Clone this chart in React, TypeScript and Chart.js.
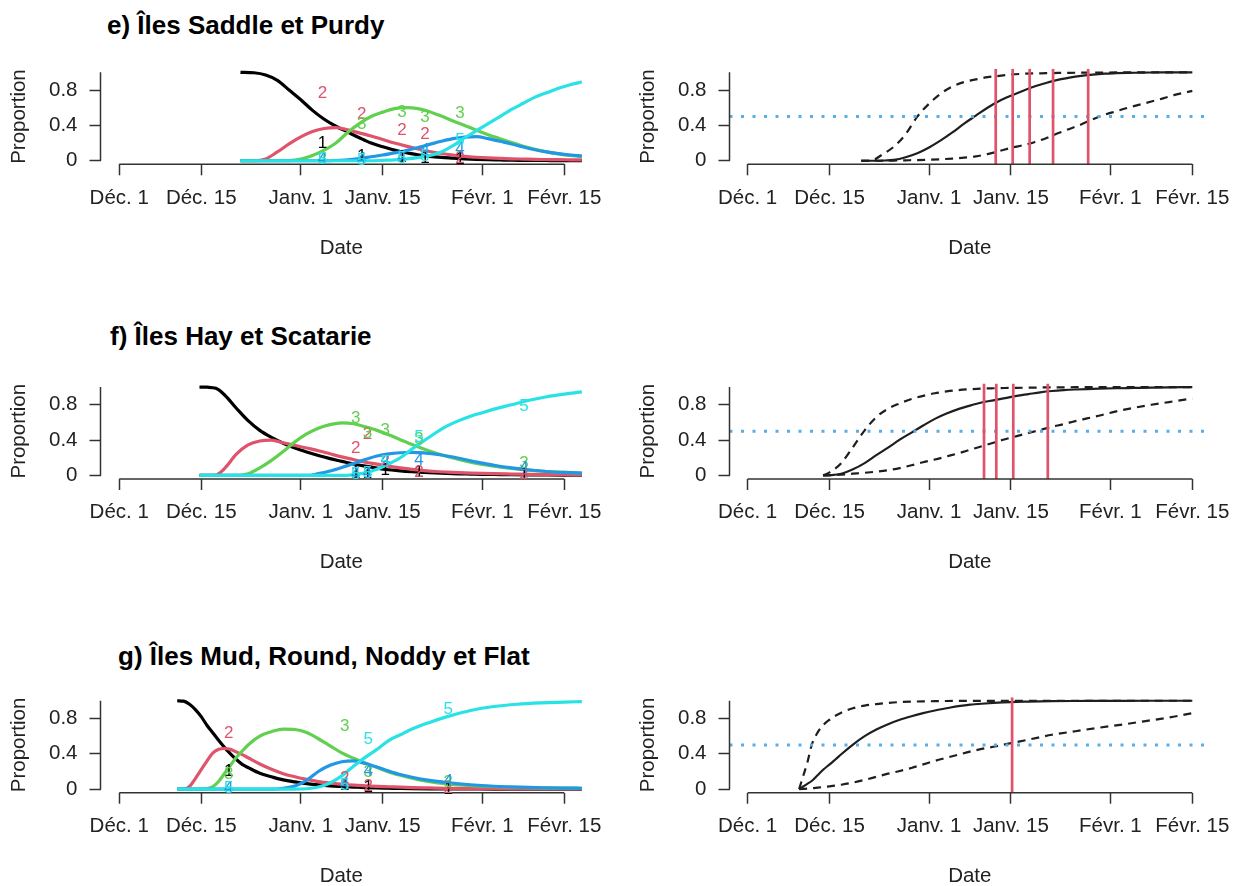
import React, { useEffect, useRef } from 'react';
import { Chart, registerables } from 'chart.js';

Chart.register(...registerables);

const FONT = '"Liberation Sans", Arial, Helvetica, sans-serif';

// ---- axis definitions (days after 1 December) ----
const tickDays = [0, 14, 31, 45, 62, 76];
const tickLabels = ['Déc. 1', 'Déc. 15', 'Janv. 1', 'Janv. 15', 'Févr. 1', 'Févr. 15'];
const yTickValues = [0, 0.2, 0.4, 0.6, 0.8, 1];
const yTickLabels = ['0', '', '0.4', '', '0.8', ''];
const stageNames = ['1', '2', '3', '4', '5'];
const stageColors = ['#000000', '#DF536B', '#61D04F', '#2297E6', '#28E2E5'];
const halfLevel = 0.5;
const panelTitles = ['e) Îles Saddle et Purdy', 'f) Îles Hay et Scatarie', 'g) Îles Mud, Round, Noddy et Flat'];

// ---- e) Saddle et Purdy : stage proportions ----
const eDays = [20.7, 23, 25, 27, 29, 31, 33, 35, 37, 39, 41, 43, 45, 47, 49, 51, 53, 55, 57, 59, 61, 63, 65, 67, 69, 71, 73, 75, 77, 79];
const eStage1 = [1.0, 0.995, 0.97, 0.91, 0.8, 0.69, 0.57, 0.47, 0.39, 0.325, 0.26, 0.2, 0.158, 0.12, 0.09, 0.068, 0.05, 0.038, 0.03, 0.022, 0.016, 0.012, 0.009, 0.006, 0.005, 0.004, 0.003, 0.002, 0.002, 0.001];
const eStage2 = [0, 0, 0.02, 0.1, 0.19, 0.27, 0.33, 0.365, 0.375, 0.35, 0.315, 0.28, 0.24, 0.2, 0.165, 0.135, 0.105, 0.082, 0.064, 0.05, 0.04, 0.032, 0.026, 0.022, 0.019, 0.016, 0.014, 0.012, 0.011, 0.01];
const eStage3 = [0, 0, 0, 0, 0.002, 0.02, 0.06, 0.12, 0.2, 0.32, 0.42, 0.5, 0.55, 0.59, 0.6, 0.59, 0.555, 0.505, 0.45, 0.4, 0.345, 0.295, 0.25, 0.205, 0.165, 0.13, 0.1, 0.078, 0.06, 0.047];
const eStage4 = [0, 0, 0, 0, 0, 0, 0, 0, 0.003, 0.01, 0.025, 0.045, 0.065, 0.09, 0.115, 0.15, 0.185, 0.22, 0.25, 0.268, 0.272, 0.25, 0.22, 0.19, 0.155, 0.125, 0.1, 0.08, 0.065, 0.055];
const eStage5 = [0, 0, 0, 0, 0, 0, 0, 0, 0, 0, 0, 0, 0.005, 0.01, 0.02, 0.035, 0.06, 0.1, 0.17, 0.26, 0.34, 0.42, 0.5, 0.58, 0.65, 0.72, 0.77, 0.82, 0.86, 0.89];
const eObsDays = [34.7, 41.4, 48.3, 52.2, 58.2];
const eObs1 = [0.2, 0.05, 0.04, 0.03, 0.02];
const eObs2 = [0.76, 0.52, 0.34, 0.3, 0.03];
const eObs3 = [0.02, 0.41, 0.55, 0.49, 0.54];
const eObs4 = [0.02, 0.02, 0.04, 0.12, 0.13];
const eObs5 = [0.02, 0.0, 0.03, 0.05, 0.23];
// e) cumulative
const eCumDays = [19.4, 21, 23, 25, 27, 29, 31, 33, 35, 37, 39, 41, 43, 45, 47, 49, 51, 53, 55, 57, 59, 61, 63, 65, 67, 69, 71, 73, 76];
const eMid = [0, 0, 0.002, 0.01, 0.04, 0.085, 0.15, 0.23, 0.32, 0.42, 0.51, 0.6, 0.675, 0.735, 0.79, 0.84, 0.88, 0.915, 0.94, 0.96, 0.975, 0.985, 0.99, 0.994, 0.996, 0.998, 0.999, 1, 1];
const eHigh = [0, 0, 0.07, 0.16, 0.3, 0.5, 0.645, 0.76, 0.84, 0.89, 0.92, 0.945, 0.96, 0.975, 0.983, 0.988, 0.99, 0.993, 0.995, 0.996, 0.997, 0.998, 0.999, 1, 1, 1, 1, 1, 1];
const eLow = [0, 0, 0, 0.002, 0.005, 0.008, 0.012, 0.017, 0.025, 0.035, 0.05, 0.075, 0.11, 0.145, 0.175, 0.21, 0.255, 0.31, 0.36, 0.41, 0.47, 0.52, 0.56, 0.6, 0.635, 0.67, 0.705, 0.745, 0.79];
const eMarks = [42.4, 45.3, 48.2, 52.2, 58.2];

// ---- f) Hay et Scatarie ----
const fDays = [13.7, 15, 16.5, 18, 20, 22, 24, 26, 28, 30, 32, 34, 36, 38, 40, 42, 44, 46, 48, 50, 52, 54, 56, 58, 60, 62, 64, 67, 70, 73, 76, 79];
const fStage1 = [1, 0.998, 0.985, 0.91, 0.76, 0.62, 0.51, 0.43, 0.365, 0.31, 0.265, 0.225, 0.19, 0.16, 0.13, 0.105, 0.083, 0.065, 0.052, 0.042, 0.034, 0.028, 0.023, 0.019, 0.016, 0.013, 0.011, 0.008, 0.006, 0.005, 0.004, 0.003];
const fStage2 = [0, 0, 0.005, 0.08, 0.24, 0.345, 0.39, 0.4, 0.37, 0.34, 0.31, 0.28, 0.245, 0.21, 0.18, 0.15, 0.128, 0.105, 0.085, 0.068, 0.055, 0.045, 0.038, 0.032, 0.027, 0.023, 0.02, 0.016, 0.012, 0.01, 0.008, 0.007];
const fStage3 = [0, 0, 0, 0, 0, 0.02, 0.085, 0.17, 0.27, 0.38, 0.47, 0.535, 0.575, 0.595, 0.585, 0.55, 0.51, 0.46, 0.405, 0.35, 0.3, 0.255, 0.215, 0.18, 0.15, 0.125, 0.105, 0.08, 0.06, 0.045, 0.035, 0.027];
const fStage4 = [0, 0, 0, 0, 0, 0, 0, 0, 0, 0, 0, 0.02, 0.05, 0.09, 0.135, 0.18, 0.22, 0.245, 0.257, 0.26, 0.255, 0.24, 0.22, 0.195, 0.165, 0.14, 0.115, 0.085, 0.062, 0.045, 0.034, 0.026];
const fStage5 = [0, 0, 0, 0, 0, 0, 0, 0, 0, 0, 0, 0, 0, 0, 0.01, 0.03, 0.07, 0.13, 0.2, 0.3, 0.39, 0.48, 0.56, 0.62, 0.67, 0.71, 0.75, 0.8, 0.85, 0.89, 0.92, 0.945];
const fObsDays = [40.4, 42.4, 45.4, 51.2, 69.1];
const fObs1 = [0.02, 0.02, 0.06, 0.04, 0.01];
const fObs2 = [0.31, 0.46, 0.16, 0.04, 0.01];
const fObs3 = [0.65, 0.48, 0.51, 0.41, 0.14];
const fObs4 = [0.01, 0.02, 0.17, 0.175, 0.08];
const fObs5 = [0.01, 0.02, 0.15, 0.43, 0.78];
// f) cumulative
const fCumDays = [12.9, 14, 16, 18, 20, 22, 24, 26, 28, 30, 32, 34, 36, 38, 40, 42, 44, 46, 48, 50, 52, 54, 56, 58, 60, 63, 66, 69, 72, 76];
const fMid = [0, 0.003, 0.02, 0.07, 0.14, 0.23, 0.315, 0.405, 0.485, 0.565, 0.64, 0.7, 0.75, 0.79, 0.825, 0.85, 0.875, 0.9, 0.92, 0.94, 0.955, 0.965, 0.972, 0.977, 0.981, 0.986, 0.99, 0.994, 0.997, 1];
const fHigh = [0, 0.035, 0.14, 0.32, 0.51, 0.66, 0.755, 0.815, 0.865, 0.9, 0.93, 0.95, 0.965, 0.975, 0.982, 0.986, 0.989, 0.991, 0.993, 0.995, 0.996, 0.997, 0.998, 0.998, 0.999, 0.999, 1, 1, 1, 1];
const fLow = [0, 0.002, 0.01, 0.02, 0.03, 0.043, 0.06, 0.083, 0.115, 0.15, 0.18, 0.215, 0.25, 0.29, 0.33, 0.37, 0.41, 0.445, 0.48, 0.515, 0.55, 0.58, 0.615, 0.645, 0.675, 0.725, 0.765, 0.8, 0.83, 0.87];
const fMarks = [40.4, 42.5, 45.4, 51.3];

// ---- g) Mud, Round, Noddy et Flat ----
const gDays = [9.9, 11, 12, 13, 14, 15, 16, 17, 18, 19, 20, 21, 22, 24, 26, 28, 30, 32, 34, 36, 38, 40, 42, 44, 46, 48, 50, 53, 56, 60, 64, 68, 72, 76, 79];
const gStage1 = [1, 0.995, 0.96, 0.9, 0.82, 0.72, 0.635, 0.55, 0.47, 0.4, 0.335, 0.28, 0.245, 0.18, 0.14, 0.105, 0.082, 0.063, 0.048, 0.037, 0.03, 0.024, 0.018, 0.014, 0.011, 0.008, 0.006, 0.004, 0.003, 0.002, 0.001, 0.001, 0.001, 0.001, 0.001];
const gStage2 = [0, 0, 0.03, 0.12, 0.22, 0.32, 0.41, 0.45, 0.46, 0.45, 0.42, 0.39, 0.355, 0.285, 0.225, 0.175, 0.14, 0.11, 0.085, 0.068, 0.055, 0.045, 0.038, 0.032, 0.027, 0.022, 0.018, 0.014, 0.01, 0.007, 0.005, 0.004, 0.003, 0.003, 0.003];
const gStage3 = [0, 0, 0, 0, 0, 0.005, 0.03, 0.09, 0.18, 0.27, 0.36, 0.43, 0.5, 0.6, 0.65, 0.68, 0.675, 0.64, 0.57, 0.49, 0.41, 0.35, 0.295, 0.245, 0.195, 0.157, 0.125, 0.085, 0.06, 0.04, 0.028, 0.02, 0.015, 0.012, 0.01];
const gStage4 = [0, 0, 0, 0, 0, 0, 0, 0, 0, 0, 0, 0, 0, 0, 0, 0.01, 0.035, 0.1, 0.2, 0.27, 0.31, 0.32, 0.29, 0.25, 0.205, 0.165, 0.135, 0.1, 0.075, 0.05, 0.033, 0.022, 0.016, 0.012, 0.01];
const gStage5 = [0, 0, 0, 0, 0, 0, 0, 0, 0, 0, 0, 0, 0, 0, 0, 0, 0, 0.005, 0.025, 0.07, 0.15, 0.26, 0.36, 0.45, 0.55, 0.615, 0.68, 0.755, 0.82, 0.89, 0.935, 0.96, 0.975, 0.985, 0.99];
const gObsDays = [18.7, 38.5, 42.5, 56.2];
const gObs1 = [0.2, 0.04, 0.02, 0.0];
const gObs2 = [0.63, 0.12, 0.03, 0.01];
const gObs3 = [0.17, 0.71, 0.19, 0.08];
const gObs4 = [0.005, 0.05, 0.2, 0.085];
const gObs5 = [0.005, 0.04, 0.56, 0.9];
// g) cumulative
const gCumDays = [8.8, 9.5, 10.2, 11, 12, 13, 14, 15, 16, 18, 20, 22, 24, 26, 28, 30, 32, 34, 36, 38, 40, 42, 45, 48, 52, 56, 60, 64, 68, 72, 76];
const gMid = [0, 0.03, 0.06, 0.095, 0.16, 0.225, 0.28, 0.335, 0.395, 0.505, 0.6, 0.675, 0.735, 0.785, 0.825, 0.86, 0.89, 0.915, 0.94, 0.955, 0.966, 0.975, 0.985, 0.99, 0.995, 0.997, 0.998, 0.999, 1, 1, 1];
const gHigh = [0, 0.15, 0.3, 0.51, 0.645, 0.73, 0.785, 0.83, 0.865, 0.915, 0.945, 0.962, 0.975, 0.985, 0.99, 0.993, 0.995, 0.997, 0.998, 0.998, 0.999, 0.999, 1, 1, 1, 1, 1, 1, 1, 1, 1];
const gLow = [0, 0.003, 0.006, 0.01, 0.018, 0.025, 0.032, 0.04, 0.05, 0.074, 0.105, 0.14, 0.175, 0.205, 0.24, 0.28, 0.32, 0.355, 0.39, 0.425, 0.455, 0.48, 0.52, 0.56, 0.615, 0.655, 0.695, 0.73, 0.77, 0.81, 0.86];
const gMarks = [45.2];

// ---- layout (pixels) ----
const Y_MIN = -0.04;
const Y_MAX = 1.04;
const X_MAX = 79.04;
const PLOT_H = 95.5;
const AXIS_W = 100.5;
const XAXIS_H = 99.8;
const PAD_TOP = 31;
const CANVAS_H = 230;
const rowTops = [68.8, 383.5, 697.2];
const colSpecs = [
  { left: 0, width: 622, xMin: -3.2, plotW: 481.6 },
  { left: 629, width: 615, xMin: -3.1, plotW: 480.6 },
];
const titlePos = [
  { left: 107, top: 12.3 },
  { left: 110, top: 323.3 },
  { left: 118, top: 642.8 },
];

type StageSpec = { days: number[]; series: number[][]; obsDays: number[]; obs: number[][] };
type CumSpec = { days: number[]; mid: number[]; low: number[]; high: number[]; marks: number[] };

const stageSpecs: StageSpec[] = [
  { days: eDays, series: [eStage1, eStage2, eStage3, eStage4, eStage5], obsDays: eObsDays, obs: [eObs1, eObs2, eObs3, eObs4, eObs5] },
  { days: fDays, series: [fStage1, fStage2, fStage3, fStage4, fStage5], obsDays: fObsDays, obs: [fObs1, fObs2, fObs3, fObs4, fObs5] },
  { days: gDays, series: [gStage1, gStage2, gStage3, gStage4, gStage5], obsDays: gObsDays, obs: [gObs1, gObs2, gObs3, gObs4, gObs5] },
];
const cumSpecs: CumSpec[] = [
  { days: eCumDays, mid: eMid, low: eLow, high: eHigh, marks: eMarks },
  { days: fCumDays, mid: fMid, low: fLow, high: fHigh, marks: fMarks },
  { days: gCumDays, mid: gMid, low: gLow, high: gHigh, marks: gMarks },
];

const pts = (xs: number[], ys: number[]) => xs.map((d, k) => ({ x: d, y: ys[k] }));

function buildStageDatasets(p: StageSpec) {
  return p.series.map((vals, s) => ({
    label: 'Stade ' + stageNames[s],
    data: pts(p.days, vals),
    borderColor: stageColors[s],
    borderWidth: 3.2,
    pointRadius: 0,
    fill: false,
    cubicInterpolationMode: 'monotone' as const,
    order: 10 - s,
  }));
}

function buildCumDatasets(p: CumSpec, xMin: number) {
  const curve = (vals: number[], dash: number[], label: string) => ({
    label,
    data: pts(p.days, vals),
    borderColor: '#1e1e1e',
    borderWidth: 2.2,
    borderDash: dash,
    pointRadius: 0,
    fill: false,
    cubicInterpolationMode: 'monotone' as const,
    order: 10,
  });
  return [
    curve(p.mid, [], 'Médiane'),
    curve(p.low, [8, 6], 'IC inférieur'),
    curve(p.high, [8, 6], 'IC supérieur'),
    {
      label: '50 %',
      data: [{ x: xMin, y: halfLevel }, { x: X_MAX, y: halfLevel }],
      borderColor: '#5AAEE6',
      borderWidth: 3,
      borderDash: [3, 8.5],
      pointRadius: 0,
      fill: false,
      order: 5,
    },
    ...p.marks.map((m) => ({
      label: 'Relevé',
      data: [{ x: m, y: Y_MIN }, { x: m, y: Y_MAX }],
      borderColor: '#DF536B',
      borderWidth: 2.7,
      pointRadius: 0,
      fill: false,
      order: 1,
    })),
  ];
}

function rStylePlugin(stage: StageSpec | null) {
  return {
    id: 'rStyle',
    afterDatasetsDraw(chart: any) {
      const { ctx, chartArea, scales } = chart;
      const x = scales.x;
      const y = scales.y;
      ctx.save();
      ctx.strokeStyle = '#333';
      ctx.lineWidth = 1.5;
      ctx.beginPath();
      ctx.moveTo(x.getPixelForValue(tickDays[0]), chartArea.bottom);
      ctx.lineTo(x.getPixelForValue(tickDays[tickDays.length - 1]), chartArea.bottom);
      ctx.moveTo(chartArea.left, y.getPixelForValue(yTickValues[0]));
      ctx.lineTo(chartArea.left, y.getPixelForValue(yTickValues[yTickValues.length - 1]));
      ctx.stroke();
      if (stage) {
        ctx.font = '17px ' + FONT;
        ctx.textAlign = 'center';
        ctx.textBaseline = 'middle';
        stage.obs.forEach((vals, s) => {
          ctx.fillStyle = stageColors[s];
          stage.obsDays.forEach((d, j) => {
            ctx.fillText(stageNames[s], x.getPixelForValue(d), y.getPixelForValue(vals[j]));
          });
        });
      }
      ctx.restore();
    },
  };
}

function Panel({ row, col }: { row: number; col: number }) {
  const ref = useRef<HTMLCanvasElement>(null);
  const c = colSpecs[col];
  const canvasTop = Math.round(rowTops[row]) - PAD_TOP;
  useEffect(() => {
    if (!ref.current) return;
    const padTop = rowTops[row] - canvasTop;
    const padBottom = CANVAS_H - padTop - PLOT_H - XAXIS_H;
    const padRight = c.width - AXIS_W - c.plotW;
    const stage = col === 0 ? stageSpecs[row] : null;
    const datasets: any[] = col === 0 ? buildStageDatasets(stageSpecs[row]) : buildCumDatasets(cumSpecs[row], c.xMin);
    const tickFont = { family: FONT, size: 20.5 };
    const grid = { drawOnChartArea: false, drawTicks: true, tickLength: 11, tickColor: '#333', tickWidth: 1.5, color: '#333' };
    const chart = new Chart(ref.current, {
      type: 'line',
      data: { datasets },
      options: {
        animation: false,
        responsive: false,
        events: [],
        layout: { padding: { left: 0, top: padTop, right: padRight, bottom: padBottom } },
        plugins: { legend: { display: false }, tooltip: { enabled: false }, title: { display: false } },
        scales: {
          x: {
            type: 'linear',
            bounds: 'data',
            min: c.xMin,
            max: X_MAX,
            afterBuildTicks: (s: any) => { s.ticks = tickDays.map((v) => ({ value: v })); },
            afterFit: (s: any) => { s.height = XAXIS_H; },
            ticks: {
              autoSkip: false,
              maxRotation: 0,
              minRotation: 0,
              padding: 10.5,
              color: '#222',
              font: tickFont,
              callback: (v: any) => tickLabels[tickDays.indexOf(Number(v))] ?? '',
            },
            grid,
            border: { display: false },
            title: { display: true, text: 'Date', color: '#222', font: tickFont, padding: { top: 0, bottom: 3.8 } },
          },
          y: {
            type: 'linear',
            bounds: 'data',
            min: Y_MIN,
            max: Y_MAX,
            afterBuildTicks: (s: any) => { s.ticks = yTickValues.map((v) => ({ value: v })); },
            afterFit: (s: any) => { s.width = AXIS_W; },
            ticks: {
              padding: 12,
              color: '#222',
              font: tickFont,
              callback: (v: any) => {
                const i = yTickValues.findIndex((t) => Math.abs(t - Number(v)) < 1e-6);
                return i >= 0 ? yTickLabels[i] : '';
              },
            },
            grid,
            border: { display: false },
            title: { display: true, text: 'Proportion', color: '#222', font: tickFont, padding: { top: 7, bottom: 0 } },
          },
        },
      } as any,
      plugins: [rStylePlugin(stage)],
    });
    return () => chart.destroy();
  }, []);
  return (
    <canvas
      ref={ref}
      width={c.width}
      height={CANVAS_H}
      style={{ position: 'absolute', left: c.left, top: canvasTop, width: c.width, height: CANVAS_H }}
    />
  );
}

export default function App() {
  return (
    <div style={{ position: 'absolute', left: 0, top: 0, width: 1244, height: 886, overflow: 'hidden', background: '#fff' }}>
      {panelTitles.map((t, i) => (
        <div
          key={t}
          style={{
            position: 'absolute',
            left: titlePos[i].left,
            top: titlePos[i].top,
            font: 'bold 26px ' + FONT,
            lineHeight: '26px',
            whiteSpace: 'nowrap',
            color: '#000',
          }}
        >
          {t}
        </div>
      ))}
      {[0, 1, 2].map((r) => (
        <React.Fragment key={r}>
          <Panel row={r} col={0} />
          <Panel row={r} col={1} />
        </React.Fragment>
      ))}
    </div>
  );
}
